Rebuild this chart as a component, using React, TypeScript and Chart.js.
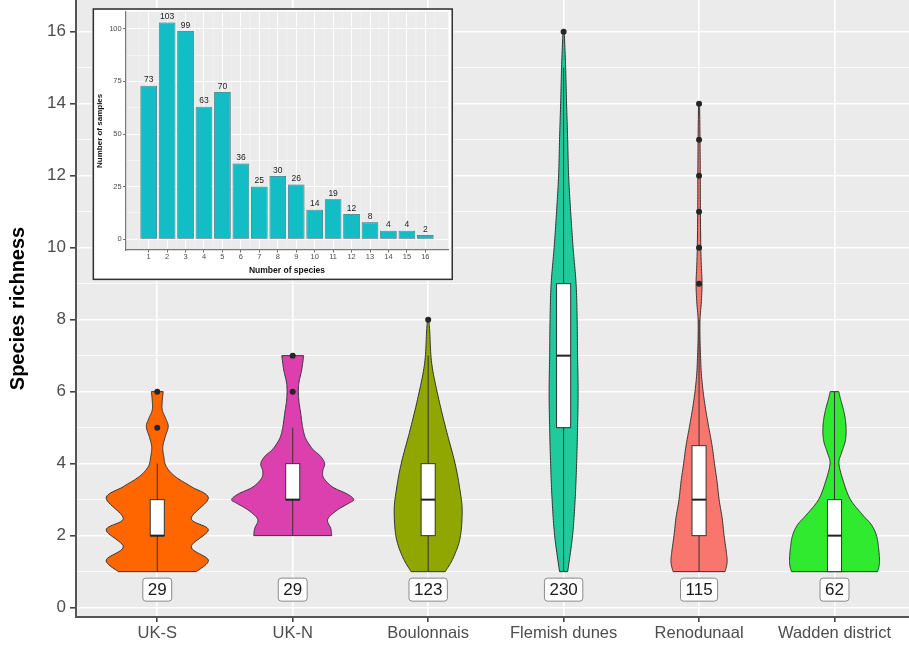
import React, { useEffect, useRef } from "react";
import { Chart, registerables } from "chart.js";

Chart.register(...registerables);

// ---------- Main chart data ----------
const regions = ["UK-S", "UK-N", "Boulonnais", "Flemish dunes", "Renodunaal", "Wadden district"];
const sampleCounts = [29, 29, 123, 230, 115, 62];
const violinColors = ["#FF6600", "#DC40AE", "#8FA700", "#1FCB9B", "#F8766D", "#2FEA2F"];
const yMajorTicks = [0, 2, 4, 6, 8, 10, 12, 14, 16];
const yMinorTicks = [1, 3, 5, 7, 9, 11, 13, 15];

// violin outlines: richness values and half-widths (in category units)
const ukSRichness = [1.0, 1.32, 1.69, 2.16, 2.48, 3.04, 3.36, 3.64, 3.92, 4.2, 4.47, 4.75, 5.03, 5.25, 5.49, 5.75, 6.0];
const ukSWidth = [0.288, 0.377, 0.251, 0.377, 0.251, 0.377, 0.251, 0.133, 0.066, 0.048, 0.041, 0.059, 0.081, 0.063, 0.037, 0.037, 0.044];

const ukNRichness = [2.0, 2.2, 2.45, 2.7, 2.9, 3.0, 3.15, 3.35, 3.6, 3.8, 4.0, 4.2, 4.4, 4.7, 5.0, 5.4, 5.8, 6.2, 6.6, 7.0];
const ukNWidth = [0.288, 0.281, 0.258, 0.325, 0.414, 0.451, 0.406, 0.295, 0.229, 0.222, 0.236, 0.207, 0.148, 0.096, 0.074, 0.059, 0.044, 0.044, 0.066, 0.081];

const boulRichness = [1.0, 1.38, 1.94, 2.68, 3.24, 4.0, 4.94, 5.86, 6.79, 7.71, 8.0];
const boulWidth = [0.126, 0.185, 0.236, 0.251, 0.236, 0.199, 0.133, 0.074, 0.026, 0.011, 0.005];

const flemRichness = [1, 2, 3, 4, 5, 6, 7, 8, 9, 10, 11, 12, 13, 14, 15, 16];
const flemWidth = [0.03, 0.066, 0.085, 0.096, 0.103, 0.107, 0.103, 0.1, 0.092, 0.07, 0.052, 0.037, 0.03, 0.022, 0.015, 0.005];

const renoRichness = [1, 1.25, 1.5, 2, 2.5, 3, 3.5, 4, 4.5, 5, 5.5, 6, 6.5, 7, 7.5, 8, 8.5, 9, 9.5, 10, 11, 12, 13, 14];
const renoWidth = [0.192, 0.207, 0.203, 0.185, 0.17, 0.148, 0.133, 0.114, 0.096, 0.072, 0.049, 0.03, 0.017, 0.011, 0.007, 0.007, 0.017, 0.022, 0.017, 0.013, 0.01, 0.009, 0.007, 0.004];

const waddRichness = [1, 1.25, 1.67, 2, 2.3, 2.58, 3, 3.5, 4, 4.3, 4.6, 4.9, 5.2, 5.5, 5.8, 6];
const waddWidth = [0.318, 0.332, 0.325, 0.31, 0.273, 0.207, 0.118, 0.066, 0.033, 0.052, 0.078, 0.086, 0.081, 0.066, 0.044, 0.032];

// box plot statistics
const whiskerLow = [1, 2, 1, 1, 1, 1];
const quartile1 = [2, 3, 2, 5, 2, 1];
const medians = [2, 3, 3, 7, 3, 2];
const quartile3 = [3, 4, 4, 9, 4.5, 3];
const whiskerHigh = [4, 5, 7, 15, 8, 6];

const outliersUKS = [5, 6];
const outliersUKN = [6, 7];
const outliersBoul = [8];
const outliersFlem = [16];
const outliersReno = [9, 10, 11, 12, 13, 14];
const outliersWadd: number[] = [];

// ---------- Inset data ----------
const speciesNumbers = [1, 2, 3, 4, 5, 6, 7, 8, 9, 10, 11, 12, 13, 14, 15, 16];
const sampleFrequency = [73, 103, 99, 63, 70, 36, 25, 30, 26, 14, 19, 12, 8, 4, 4, 2];
const insetYTicks = [0, 25, 50, 75, 100];
const insetYMinor = [12.5, 37.5, 62.5, 87.5];
const insetXMinor = [0.5, 1.5, 2.5, 3.5, 4.5, 5.5, 6.5, 7.5, 8.5, 9.5, 10.5, 11.5, 12.5, 13.5, 14.5, 15.5, 16.5];

const FONT = '"Liberation Sans", Arial, Helvetica, sans-serif';
Chart.defaults.font.family = FONT;

const violins = [
  { y: ukSRichness, w: ukSWidth },
  { y: ukNRichness, w: ukNWidth },
  { y: boulRichness, w: boulWidth },
  { y: flemRichness, w: flemWidth },
  { y: renoRichness, w: renoWidth },
  { y: waddRichness, w: waddWidth },
];
const outliers = [outliersUKS, outliersUKN, outliersBoul, outliersFlem, outliersReno, outliersWadd];

// smooth outline through the given points (Catmull-Rom drawing helper)
function smoothOutline(ys: number[], ws: number[]) {
  const pts: [number, number][] = [];
  const n = ys.length;
  for (let j = 0; j < n - 1; j++) {
    const a = j > 0 ? j - 1 : j;
    const d = j + 2 < n ? j + 2 : n - 1;
    for (let s = 0; s < 12; s++) {
      const t = s / 12, t2 = t * t, t3 = t2 * t;
      const f = (p0: number, p1: number, p2: number, p3: number) =>
        0.5 * (2 * p1 + (-p0 + p2) * t + (2 * p0 - 5 * p1 + 4 * p2 - p3) * t2 + (-p0 + 3 * p1 - 3 * p2 + p3) * t3);
      pts.push([f(ys[a], ys[j], ys[j + 1], ys[d]), Math.max(0, f(ws[a], ws[j], ws[j + 1], ws[d]))]);
    }
  }
  pts.push([ys[n - 1], ws[n - 1]]);
  return pts;
}

const zeroPad = (s: any) => {
  s.paddingTop = 0;
  s.paddingBottom = 0;
  s.paddingLeft = 0;
  s.paddingRight = 0;
};

const panelBg = {
  id: "panelBg",
  beforeDraw(chart: any) {
    const { ctx, chartArea: a } = chart;
    ctx.save();
    ctx.fillStyle = "#ffffff";
    ctx.fillRect(0, 0, chart.width, chart.height);
    ctx.fillStyle = "#EBEBEB";
    ctx.fillRect(a.left, a.top, a.right - a.left, a.bottom - a.top);
    ctx.restore();
  },
};

const BOX_HALF = 0.052;
const LABEL_Y = 0.5;

const violinPlugin = {
  id: "violins",
  beforeDatasetsDraw(chart: any) {
    const { ctx } = chart;
    const xs = chart.scales.x;
    const ys = chart.scales.y;
    ctx.save();
    violins.forEach((vd, i) => {
      const c = i + 1;
      const pts = smoothOutline(vd.y, vd.w);
      ctx.beginPath();
      pts.forEach(([v, w], k) => {
        const px = xs.getPixelForValue(c + w);
        const py = ys.getPixelForValue(v);
        if (k === 0) ctx.moveTo(px, py);
        else ctx.lineTo(px, py);
      });
      for (let k = pts.length - 1; k >= 0; k--) {
        const [v, w] = pts[k];
        ctx.lineTo(xs.getPixelForValue(c - w), ys.getPixelForValue(v));
      }
      ctx.closePath();
      ctx.fillStyle = violinColors[i];
      ctx.fill();
      ctx.lineWidth = 1;
      ctx.strokeStyle = "#333333";
      ctx.stroke();

      // whisker
      const cx = xs.getPixelForValue(c);
      ctx.beginPath();
      ctx.moveTo(cx, ys.getPixelForValue(whiskerLow[i]));
      ctx.lineTo(cx, ys.getPixelForValue(whiskerHigh[i]));
      ctx.lineWidth = 1;
      ctx.strokeStyle = "#333333";
      ctx.stroke();

      // box
      const bl = xs.getPixelForValue(c - BOX_HALF);
      const br = xs.getPixelForValue(c + BOX_HALF);
      const bt = ys.getPixelForValue(quartile3[i]);
      const bb = ys.getPixelForValue(quartile1[i]);
      ctx.fillStyle = "#ffffff";
      ctx.fillRect(bl, bt, br - bl, bb - bt);
      ctx.lineWidth = 1;
      ctx.strokeStyle = "#333333";
      ctx.strokeRect(bl, bt, br - bl, bb - bt);
      const my = ys.getPixelForValue(medians[i]);
      ctx.beginPath();
      ctx.moveTo(bl, my);
      ctx.lineTo(br, my);
      ctx.lineWidth = 2;
      ctx.strokeStyle = "#222222";
      ctx.stroke();
    });
    ctx.restore();
  },
  afterDatasetsDraw(chart: any) {
    const { ctx } = chart;
    const xs = chart.scales.x;
    const ys = chart.scales.y;
    ctx.save();
    ctx.font = `17px ${FONT}`;
    ctx.textAlign = "center";
    ctx.textBaseline = "middle";
    sampleCounts.forEach((n, i) => {
      const cx = xs.getPixelForValue(i + 1);
      const cy = ys.getPixelForValue(LABEL_Y);
      const txt = String(n);
      const tw = ctx.measureText(txt).width;
      const w = tw + 10;
      const h = 23;
      const x0 = cx - w / 2, y0 = cy - h / 2;
      ctx.beginPath();
      (ctx as any).roundRect(x0, y0, w, h, 3);
      ctx.fillStyle = "#ffffff";
      ctx.fill();
      ctx.lineWidth = 1;
      ctx.strokeStyle = "#8a8a8a";
      ctx.stroke();
      ctx.fillStyle = "#1a1a1a";
      ctx.fillText(txt, cx, cy + 1);
    });
    ctx.restore();
  },
};

const insetFrame = {
  id: "insetFrame",
  beforeDraw(chart: any) {
    const { ctx, chartArea: a } = chart;
    ctx.save();
    ctx.fillStyle = "#ffffff";
    ctx.fillRect(0, 0, chart.width, chart.height);
    ctx.fillStyle = "#EBEBEB";
    ctx.fillRect(a.left, a.top, a.right - a.left, a.bottom - a.top);
    // minor vertical grid lines
    const xs = chart.scales.x;
    ctx.strokeStyle = "#F7F7F7";
    ctx.lineWidth = 0.5;
    insetXMinor.forEach((v) => {
      const px = xs.getPixelForValue(v);
      ctx.beginPath();
      ctx.moveTo(px, a.top);
      ctx.lineTo(px, a.bottom);
      ctx.stroke();
    });
    ctx.restore();
  },
  afterDraw(chart: any) {
    const { ctx } = chart;
    ctx.save();
    ctx.lineWidth = 1.6;
    ctx.strokeStyle = "#333333";
    ctx.strokeRect(1.3, 1, chart.width - 3, chart.height - 2.6);
    ctx.restore();
  },
};

const barLabels = {
  id: "barLabels",
  afterDatasetsDraw(chart: any) {
    const { ctx } = chart;
    const meta = chart.getDatasetMeta(0);
    ctx.save();
    ctx.font = `8.5px ${FONT}`;
    ctx.fillStyle = "#222222";
    ctx.textAlign = "center";
    ctx.textBaseline = "bottom";
    meta.data.forEach((el: any, i: number) => {
      ctx.fillText(String(sampleFrequency[i]), el.x, el.y - 1.5);
    });
    ctx.restore();
  },
};

export default function App() {
  const mainRef = useRef<HTMLCanvasElement>(null);
  const insetRef = useRef<HTMLCanvasElement>(null);

  useEffect(() => {
    const outlierPoints: { x: number; y: number }[] = [];
    outliers.forEach((arr, i) => arr.forEach((v) => outlierPoints.push({ x: i + 1, y: v })));

    const main = new Chart(mainRef.current as HTMLCanvasElement, {
      type: "scatter",
      data: {
        datasets: [
          {
            data: outlierPoints,
            pointRadius: 3,
            pointBackgroundColor: "#262626",
            pointBorderWidth: 0,
          },
        ],
      },
      options: {
        responsive: false,
        animation: false,
        devicePixelRatio: 1,
        layout: { padding: 0, autoPadding: false },
        plugins: { legend: { display: false }, tooltip: { enabled: false } },
        scales: {
          x: {
            type: "linear",
            min: 0.4,
            max: 6.55,
            afterBuildTicks: (s: any) => {
              s.ticks = regions.map((_, i) => ({ value: i + 1 }));
            },
            afterFit: (s: any) => {
              s.height = 30;
              zeroPad(s);
            },
            ticks: {
              callback: (v: any) => regions[Math.round(Number(v)) - 1] ?? "",
              color: "#4D4D4D",
              font: { size: 16.5, family: FONT },
              padding: 2,
              autoSkip: false,
              maxRotation: 0,
              minRotation: 0,
            },
            grid: { color: "#ffffff", lineWidth: 1.6, tickColor: "#444444", tickLength: 5 },
            border: { display: true, color: "#555555", width: 2 },
          },
          y: {
            type: "linear",
            min: -0.26,
            max: 16.88,
            afterBuildTicks: (s: any) => {
              s.ticks = [...yMajorTicks, ...yMinorTicks].sort((a, b) => a - b).map((v) => ({ value: v }));
            },
            afterFit: (s: any) => {
              s.width = 76;
              zeroPad(s);
            },
            ticks: {
              callback: (v: any) => (yMajorTicks.includes(Number(v)) ? String(v) : ""),
              color: "#4D4D4D",
              font: { size: 17, family: FONT },
              padding: 4,
              autoSkip: false,
            },
            grid: {
              color: "#ffffff",
              lineWidth: (c: any) => (c.tick && yMajorTicks.includes(c.tick.value) ? 1.6 : 0.8),
              tickColor: (c: any) => (c.tick && yMajorTicks.includes(c.tick.value) ? "#444444" : "rgba(0,0,0,0)"),
              tickLength: 6,
            },
            border: { display: true, color: "#555555", width: 2 },
            title: {
              display: true,
              text: "Species richness",
              color: "#000000",
              font: { size: 20, weight: "bold", family: FONT },
              padding: { top: 6, bottom: 0 },
            },
          },
        },
      },
      plugins: [panelBg, violinPlugin],
    } as any);

    const inset = new Chart(insetRef.current as HTMLCanvasElement, {
      type: "bar",
      data: {
        datasets: [
          {
            data: speciesNumbers.map((s, i) => ({ x: s, y: sampleFrequency[i] })),
            backgroundColor: "#12BDC5",
            borderColor: "#2E6F72",
            borderWidth: 0.8,
            borderSkipped: false,
            barPercentage: 0.9,
            categoryPercentage: 1,
          },
        ],
      },
      options: {
        responsive: false,
        animation: false,
        devicePixelRatio: 1,
        layout: { padding: { top: 3.7, right: 5.7, left: 0, bottom: 0 }, autoPadding: false },
        plugins: { legend: { display: false }, tooltip: { enabled: false } },
        scales: {
          x: {
            type: "linear",
            min: -0.245,
            max: 17.245,
            offset: false,
            afterBuildTicks: (s: any) => {
              s.ticks = speciesNumbers.map((v) => ({ value: v }));
            },
            afterFit: (s: any) => {
              s.height = 31;
              zeroPad(s);
            },
            ticks: {
              callback: (v: any) => String(v),
              color: "#4D4D4D",
              font: { size: 7.5, family: FONT },
              padding: 0,
              autoSkip: false,
              maxRotation: 0,
              minRotation: 0,
            },
            grid: {
              offset: false,
              color: "#ffffff",
              lineWidth: 0.9,
              tickColor: "#555555",
              tickLength: 2.5,
            },
            border: { display: true, color: "#777777", width: 1.2 },
            title: {
              display: true,
              text: "Number of species",
              color: "#111111",
              font: { size: 8.5, weight: "bold", family: FONT },
              padding: { top: 0, bottom: 5.2 },
            },
          },
          y: {
            type: "linear",
            min: -5.15,
            max: 108.15,
            afterBuildTicks: (s: any) => {
              s.ticks = [...insetYTicks, ...insetYMinor].sort((a, b) => a - b).map((v) => ({ value: v }));
            },
            afterFit: (s: any) => {
              s.width = 33.7;
              zeroPad(s);
            },
            ticks: {
              callback: (v: any) => (insetYTicks.includes(Number(v)) ? String(v) : ""),
              color: "#4D4D4D",
              font: { size: 7.5, family: FONT },
              padding: 1.5,
              autoSkip: false,
            },
            grid: {
              color: "#ffffff",
              lineWidth: (c: any) => (c.tick && insetYTicks.includes(c.tick.value) ? 0.9 : 0.45),
              tickColor: (c: any) => (c.tick && insetYTicks.includes(c.tick.value) ? "#555555" : "rgba(0,0,0,0)"),
              tickLength: 2.5,
            },
            border: { display: true, color: "#777777", width: 1.2 },
            title: {
              display: true,
              text: "Number of samples",
              color: "#111111",
              font: { size: 8, weight: "bold", family: FONT },
              padding: { top: 3, bottom: 0 },
            },
          },
        },
      },
      plugins: [insetFrame, barLabels],
    } as any);

    return () => {
      main.destroy();
      inset.destroy();
    };
  }, []);

  return (
    <div style={{ position: "absolute", left: 0, top: 0, width: 909, height: 647 }}>
      <canvas ref={mainRef} width={909} height={647} style={{ position: "absolute", left: 0, top: 0 }} />
      <canvas ref={insetRef} width={362} height={273} style={{ position: "absolute", left: 92, top: 8 }} />
    </div>
  );
}
